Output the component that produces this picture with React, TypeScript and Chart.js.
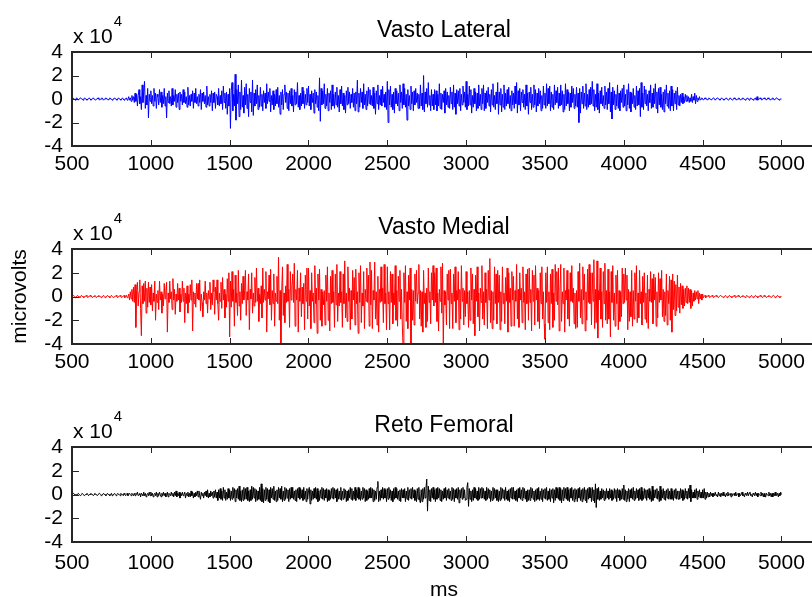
import React, { useEffect, useRef } from "react";
import { Chart, registerables } from "chart.js";

Chart.register(...registerables);

// Sampling of the recordings (ms)
const SAMPLE_START_MS = 500;
const SAMPLE_STEP_MS = 5;

// EMG amplitudes in units of 1000 microvolts, one value every 5 ms from 500 ms to 5000 ms
const vastoLateral = [
  0, 1, 0, 0, -1, 0, 1, 0, -1, 0, 0, 1, 0, 0, -1, 0, 1, 0, 0, -1,
  0, 0, 1, 0, -1, 0, 0, 1, 0, 0, -1, 0, 0, 1, 0, -1, 0, 0, 1, 0,
  -1, 0, 0, 1, 0, 0, -1, 0, 1, 0, 0, -1, 0, 0, 1, 0, 0, -1, 0, 1,
  0, 0, -1, 0, 1, 0, -1, 0, 0, 1, -1, 0, 2, -1, 1, -2, 3, -1, 2, -3,
  5, -2, 4, -6, 3, 8, -4, 2, -9, 12, -3, 6, 15, -8, 3, -5, 9, -16, 4, -2,
  7, -4, 3, -6, 9, -2, 5, -8, 4, 2, -5, 8, -3, 6, -7, 3, -4, 9, -6, 2,
  -16, 5, -3, 7, -4, 2, -6, 9, -5, 3, -2, 8, -7, 4, -3, 5, -9, 6, -2, 4,
  -5, 8, -3, 6, -4, 2, -7, 10, -5, 3, -6, 4, -2, 7, -8, 5, -3, 9, -4, 2,
  -6, 4, -3, 8, -9, 5, -2, 6, -4, 3, -7, 11, -5, 2, -6, 4, -3, 7, -10, 5,
  -3, 6, -8, 4, 2, -5, 9, -6, 3, -4, 7, -9, 11, -3, 5, -8, 6, -13, 4, -6,
  9, -25, 7, 14, -10, 4, -6, 21, -18, 8, -4, 12, -15, 6, -9, 16, -7, 3, -12, 10,
  -5, 13, -8, 4, -15, 9, -3, 6, -11, 16, -14, 5, -6, 8, -4, 12, -9, 3, -7, 10,
  -6, 4, -10, 7, -3, 5, -8, 13, -4, 6, -2, 9, -11, 3, -5, 7, -9, 4, -6, 8,
  -4, 10, -7, 3, -13, 6, -5, 8, -9, 4, 12, -3, 6, -8, 5, -10, 7, -4, 9, -6,
  3, -11, 8, -5, 6, -4, 14, -7, 3, -9, 5, -6, 10, -4, 7, -8, 4, -5, 9, -3,
  11, -6, 4, -9, 7, -3, 5, -12, 8, -4, 6, -7, 3, -10, 18, -19, 9, -5, 7, -4,
  13, -8, 4, -6, 9, -10, 5, -3, 7, -9, 12, -6, 4, -8, 6, -5, 10, -7, 3, -11,
  8, -4, 11, -6, 5, -9, 3, -12, 7, -5, 10, -4, 6, -8, 4, -3, 9, -7, 5, -10,
  6, -4, 16, -11, 5, -7, 9, -3, 6, -8, 13, -5, 4, -9, 7, -6, 10, -4, 8, -5,
  3, -6, 10, -8, 5, -13, 7, -4, 12, -9, 3, -5, 8, -6, 11, -3, 4, -7, 6, -9,
  15, -20, 8, -5, 11, -7, 4, -9, 6, -12, 9, -4, 7, -6, 5, -10, 12, -3, 6, -8,
  13, -5, 9, -7, 4, -18, 8, -6, 3, -9, 11, -4, 6, -10, 7, -5, 9, -3, 5, -8,
  4, -8, 12, -6, 5, -9, 20, -11, 6, -4, 9, -7, 14, -5, 3, -10, 8, -6, 4, -9,
  8, -5, 7, -10, 4, -6, 13, -8, 5, -9, 4, -3, 7, -12, 9, -5, 6, -7, 3, -8,
  10, -4, 6, -9, 12, -7, 5, -13, 8, -4, 7, -6, 9, -10, 4, -5, 11, -3, 6, -7,
  15, -9, 4, -6, 11, -5, 8, -12, 3, -7, 9, -4, 6, -10, 5, -8, 12, -6, 4, -9,
  9, -4, 12, -10, 5, -8, 7, -3, 10, -6, 4, -11, 8, -5, 13, -7, 3, -9, 6, -4,
  14, -13, 6, -5, 9, -11, 4, -7, 12, -9, 5, -6, 8, -4, 10, -8, 3, -10, 7, -5,
  5, -8, 11, -4, 14, -12, 7, -5, 9, -10, 6, -3, 8, -7, 4, -9, 12, -6, 5, -13,
  6, -3, 10, -9, 4, -7, 12, -5, 8, -11, 5, -6, 9, -4, 7, -10, 3, -8, 11, -5,
  5, -8, 13, -6, 9, -4, 11, -10, 6, -7, 4, -9, 12, -5, 7, -3, 10, -8, 5, -6,
  12, -5, 7, -11, 4, -9, 13, -6, 8, -4, 6, -10, 5, -7, 11, -3, 9, -8, 4, -6,
  10, -7, 5, -20, 9, -12, 6, -4, 11, -8, 5, -6, 13, -9, 4, -7, 8, -5, 10, -4,
  15, -6, 8, -10, 4, -7, 13, -9, 5, -12, 7, -4, 10, -6, 3, -8, 11, -5, 6, -9,
  9, -4, 14, -11, 6, -17, 10, -5, 7, -9, 4, -6, 12, -8, 5, -10, 7, -3, 9, -7,
  12, -6, 4, -10, 8, -5, 13, -8, 6, -11, 5, -4, 9, -7, 3, -9, 11, -6, 7, -5,
  9, -15, 14, -7, 5, -9, 11, -4, 8, -6, 4, -10, 7, -3, 12, -8, 5, -7, 9, -4,
  13, -8, 6, -12, 9, -5, 10, -7, 4, -9, 6, -11, 8, -4, 12, -6, 5, -8, 7, -10,
  11, -6, 8, -10, 5, -4, 7, -9, 10, -5, 3, -6, 4, -3, 5, -4, 2, -3, 4, -2,
  3, -2, 2, -3, 1, -2, 4, -3, 2, -1, 5, -4, 3, -2, 1, -1, 2, -1, 0, 1,
  0, -1, 0, 1, 0, 0, -1, 0, 1, 0, 0, -1, 0, 0, 1, 0, -1, 0, 0, 1,
  0, 0, -1, 0, 1, 0, 0, -1, 0, 0, 1, 0, 0, -1, 0, 1, 0, 0, -1, 0,
  1, 0, 0, -1, 0, 0, 1, 0, -1, 0, 0, 1, 0, 0, -1, 0, 0, 1, 0, -1,
  0, 1, 0, 0, -1, 0, 0, 1, -1, 2, -1, 0, 0, 1, 0, -1, 0, 0, 1, 0,
  0, -1, 0, 1, 0, 0, -1, 0, 0, 1, 0, -1, 0, 0, 1, 0, 0, -1, 0, 0,
  0,
];

const vastoMedial = [
  0, 0, 1, 0, -1, 0, 0, 1, 0, 0, -1, 0, 1, 0, 0, -1, 0, 0, 1, 0,
  -1, 0, 0, 1, 0, 0, -1, 0, 0, 1, 0, -1, 0, 0, 1, 0, 0, -1, 0, 0,
  1, 0, -1, 0, 0, 1, 0, 0, -1, 0, 1, 0, 0, -1, 0, 0, 1, 0, -1, 0,
  0, 1, 0, -1, 0, 0, 1, -1, 0, 1, -1, 0, 2, -3, 4, -2, 6, -4, 8, -5,
  10, -26, 5, 12, -8, 4, 14, -10, -33, 9, -6, 11, -4, 13, -14, 7, -9, 12, -5, 8,
  -7, 10, -12, 3, -4, 13, -20, 2, -5, 5, -11, 13, -3, 4, -14, 2, -8, 11, -2, 4,
  12, -30, 3, -5, 13, -2, 4, -11, 15, -3, 6, -15, 2, -4, 11, -3, 7, -13, 2, -5,
  13, -4, 7, -22, 3, -6, 9, -14, 2, -5, 10, -3, 14, -29, 4, -6, 3, -9, 11, -2,
  11, -3, 14, -12, 2, -5, -17, 4, -3, 13, -6, 3, -14, 5, -2, 12, -11, 3, -7, 14,
  4, -15, 8, -3, 14, -6, -20, 3, -4, 12, -10, 16, -3, 6, -18, 2, -9, 15, -4, 20,
  -34, 13, -9, 21, -4, 6, -25, 18, -5, 3, -16, 22, -8, 4, -20, 11, -6, 17, -3, 5,
  22, -16, 4, -3, 19, -28, 6, -2, 20, -14, 3, -8, 16, -5, 24, -4, 7, -21, 2, -6,
  9, -18, 24, -5, 6, -3, 21, -30, 4, -2, 18, -7, 23, -20, 5, -6, 19, -25, 3, -4,
  17, -6, 33, -20, 5, -44, 4, 25, -16, 3, -22, 9, -5, 27, -4, 6, -26, 21, -3, 8,
  19, -5, 28, -25, 6, -3, 22, -30, 7, -4, 20, -17, 8, -6, 11, -28, 18, -4, 24, -19,
  24, -8, 5, -27, 20, -4, 3, -22, 26, -6, 7, -31, 19, -3, 23, -20, 6, -25, 4, -7,
  5, -24, 18, -4, 25, -20, 3, -29, 17, -6, 22, -5, 4, -26, 19, -7, 27, -21, 3, -8,
  21, -5, 4, -26, 19, -6, 30, -18, 3, -21, 25, -4, 7, -28, 5, -19, 22, -3, 16, -24,
  23, -6, 4, -31, 20, -5, 26, -22, 3, -8, 21, -27, 6, -4, 24, -5, 18, -25, 29, -7,
  22, -27, 5, -3, 29, -19, 4, -24, 17, -30, 6, -5, 25, -4, 7, -22, 27, -6, 3, -28,
  25, -6, 4, -28, 21, -5, 19, -23, 3, -7, 26, -20, 5, -25, 17, -4, 22, -19, 6, -24,
  -44, 20, -5, 26, -21, 4, -27, 18, -3, 24, -45, 6, -20, 5, -24, 19, -4, 22, -6, 3,
  27, -19, 5, -25, 4, -30, 22, -6, 3, -26, 7, -21, 24, -5, 4, -23, 20, -3, 26, -8,
  20, -5, 24, -21, 3, -29, 6, -4, 25, -14, 28, -44, 5, -7, 4, -24, 19, -3, 22, -27,
  23, -6, 3, -27, 19, -4, 25, -22, 5, -3, 21, -28, 6, -19, 26, -4, 7, -24, 5, -17,
  21, -6, 4, -26, 5, -20, 24, -3, 19, -23, 6, -33, 18, -4, 25, -17, 3, -29, 7, -5,
  26, -19, 4, -24, 20, -5, 6, -27, 22, -3, 32, -22, 5, -27, 4, -20, 25, -6, 19, -23,
  22, -5, 18, -28, 4, -21, 25, -6, 3, -23, 16, -4, 24, -30, 20, -5, 7, -25, 21, -3,
  17, -25, 5, -4, 27, -19, 6, -26, 20, -3, 7, -22, 25, -5, 4, -28, 19, -6, 23, -20,
  24, -5, 6, -29, 22, -4, 18, -24, 26, -3, 7, -21, 5, -27, 20, -6, 25, -19, 4, -23,
  -36, 20, -5, 25, -22, 4, -28, 19, -6, 23, -26, 3, -20, 27, -4, 21, -7, 24, -29, 5,
  27, -21, 4, -6, 24, -30, 5, -3, 22, -19, 6, -25, 20, -4, 26, -5, 7, -23, 3, -27,
  5, -26, 21, -4, 28, -18, 6, -23, 25, -3, 19, -29, 4, -20, 23, -5, 27, -6, 20, -24,
  20, -4, 31, -27, 6, -22, 30, -35, 5, -3, 24, -19, 4, -26, 21, -6, 28, -20, 5, -23,
  23, -19, 4, -34, 21, -5, 26, -20, 3, -25, 18, -6, 22, -28, 5, -21, 4, -17, 24, -6,
  19, -5, 24, -3, 18, -28, 6, -21, 4, -17, 22, -25, 5, -19, 20, -4, 26, -22, 3, -18,
  22, -6, 4, -24, 17, -5, 20, -19, 3, -22, 18, -27, 6, -4, 21, -5, 15, -23, 19, -3,
  16, -25, 4, -18, 20, -5, 15, -3, 22, -17, 6, -21, 4, -16, 19, -24, 5, -6, 17, -20,
  14, -30, 19, -11, 13, -16, 10, -12, 18, -9, 8, -14, 11, -7, 9, -10, 6, -8, 7, -5,
  9, -6, 7, -5, 6, -10, 5, -8, 3, -4, 5, -3, 4, -2, 5, -6, 3, -2, 2, -3,
  2, -1, 0, 1, -1, 0, 0, 1, 0, -1, 0, 0, 1, 0, -1, 0, 0, 1, 0, 0,
  -1, 0, 0, 1, 0, 0, -1, 0, 0, 1, 0, -1, 0, 0, 1, 0, 0, -1, 0, 0,
  1, 0, -1, 0, 0, 1, 0, 0, -1, 0, 0, 1, 0, 0, -1, 0, 1, 0, 0, -1,
  0, 0, 1, 0, -1, 0, 0, 1, 0, 0, -1, 0, 0, 1, 0, 0, -1, 0, 1, 0,
  0, -1, 0, 0, 1, 0, 0, -1, 0, 0, 1, 0, -1, 0, 0, 1, 0, 0, -1, 0,
  0,
];

const retoFemoral = [
  0, 0, 1, 0, 0, -1, 0, 0, 1, 0, 0, -1, 0, 1, 0, 0, -1, 0, 0, 1,
  0, -1, 0, 0, 1, 0, 0, -1, 0, 1, 0, 0, -1, 0, 0, 1, 0, -1, 0, 0,
  1, 0, 0, -1, 0, 1, 0, 0, -1, 0, 1, -1, 0, 0, 1, 0, -1, 0, 1, 0,
  0, -1, 1, 0, 0, -1, 1, 0, -1, 0, 1, -1, 0, 1, 0, -1, 1, 0, -1, 1,
  -1, 1, 0, 2, -1, 0, 1, -2, 1, 0, -1, 2, -1, 1, -2, 0, 1, -1, 2, -1,
  2, -1, 1, -2, 0, 1, -1, 2, -2, 1, -1, 2, 0, -2, 1, -1, 2, -1, 1, -2,
  -1, 2, -2, 1, 0, -1, 2, -1, 1, -2, 2, -1, 3, -2, 1, -1, 2, -3, 1, -1,
  2, -1, 0, 2, -3, 1, -1, 2, -2, 1, -2, 3, -1, 2, -3, 1, -2, 2, -1, 3,
  -2, 3, -1, -4, 2, -1, 1, -3, 2, -1, 3, -2, 4, -3, 1, -2, 3, -1, 2, -3,
  3, -2, 4, -3, 2, -5, 4, -3, 5, -4, 3, -5, 6, -3, 4, -5, 2, -4, 5, -3,
  4, -5, 3, -4, 6, -3, 5, -6, 4, -3, 5, -4, 7, -5, 3, -6, 4, -5, 6, -4,
  5, -4, 6, -5, 3, -6, 4, -5, 7, -4, 6, -3, 5, -6, 4, -5, 3, -4, 6, -5,
  9, -6, 5, -7, 4, -5, 6, -4, 5, -6, 4, -7, 6, -3, 5, -4, 7, -5, 3, -6,
  4, -5, 6, -3, 5, -4, 7, -6, 3, -5, 6, -4, 5, -3, 4, -6, 5, -4, 6, -3,
  6, -4, 3, -5, 4, -6, 5, -3, 6, -4, 5, -3, 4, -5, 6, -4, 3, -6, 5, -4,
  3, 6, -8, 4, -5, 3, -4, 5, -3, 6, -4, 5, -6, 3, -5, 4, -3, 6, -4, 5,
  -5, 4, -3, 5, -6, 4, -5, 3, -4, 5, -3, 6, -4, 5, -3, 4, -6, 5, -4, 3,
  -4, 6, -5, 3, -4, 5, -3, 4, -6, 3, -5, 4, -3, 6, -4, 5, -5, 3, -4, 6,
  -5, 4, -3, 6, -4, 5, -5, 3, -4, 6, -3, 5, -6, 4, -5, 3, -4, 5, -3, 6,
  -3, 5, -6, 4, -5, 3, -4, 6, 11, -6, 3, -5, 4, -3, 6, -4, 5, -3, 4, -6,
  5, -4, 6, -3, 4, -5, 3, -6, 5, -4, 6, -3, 5, -4, 3, -5, 4, -6, 5, -3,
  4, -3, 5, -6, 3, -4, 6, -5, 4, -3, 5, -4, 6, -3, 4, -5, 3, -6, 5, -4,
  6, -5, -7, 4, -6, 5, -4, 6, -3, 5, 13, -14, 7, -5, 4, -6, 5, -3, 6, -4,
  4, -6, 5, -4, 6, -3, 5, -5, 4, -6, 3, -4, 5, -3, 6, -5, 4, -3, 5, -4,
  3, -5, 6, -4, 5, -6, 4, -3, 5, -4, 6, -7, 4, -3, 5, -4, 6, -3, 4, -5,
  -4, 6, 10, -10, 5, -4, 3, -6, 4, -5, 6, -3, 5, -4, 3, -5, 6, -4, 5, -3,
  6, -3, 5, -4, 3, -5, 6, -4, 5, -3, 4, -6, 3, -5, 6, -4, 5, -3, 4, -5,
  4, -6, 3, -5, 6, -4, 5, -3, 4, -5, 6, -4, 3, -5, 4, -6, 5, -3, 6, -4,
  6, -4, 3, -5, 4, -6, 5, -3, 6, -4, 4, -5, 6, -3, 5, -4, 3, -6, 4, -5,
  4, -5, 6, -3, 5, -4, 3, -6, 4, -5, 5, -4, 6, -5, 3, -4, 5, -6, 4, -3,
  5, -4, 6, -5, 3, -4, 5, -6, 4, -3, 5, -7, 4, -5, 6, -3, 5, -4, 6, -5,
  5, -7, 4, -5, 6, -3, 5, -4, 6, -5, 4, -6, 5, -3, 6, -5, 4, -6, 5, -4,
  4, -6, 5, -3, 6, -5, 4, -6, 5, -4, 6, -5, 4, -7, 5, -4, 6, -3, 5, -6,
  6, -5, 4, -7, 9, -11, 5, -4, 6, -5, 3, -4, 5, -3, 4, -5, 3, -4, 5, -3,
  3, -4, 5, -3, 4, -5, 3, -4, 5, -3, 4, -6, 5, -3, 4, -5, 3, -4, 5, -4,
  8, -5, 4, -6, 3, -4, 5, -6, 4, -3, 5, -4, 6, -5, 3, -4, 5, -3, 4, -5,
  5, -4, 6, -5, 3, -4, 5, -3, 4, -5, 4, -3, 5, -4, 3, -6, 7, -5, 4, -3,
  4, -3, 5, -4, 3, -6, 7, -5, 4, -3, 5, -4, 3, -5, 4, -3, 5, -4, 3, -4,
  5, -4, 3, -5, 4, -3, 5, -4, 3, -4, 3, -4, 5, -3, 4, -5, 3, -4, 5, -3,
  3, -4, 5, -3, 8, -6, 4, -3, 2, -3, 4, -3, 5, -4, 3, -2, 4, -3, 2, -3,
  4, -3, 5, -4, 2, -3, 2, -2, 1, -2, 2, -1, 1, -2, 1, -1, 2, -1, 0, -2,
  2, -1, 1, -2, 1, -1, 2, -1, 0, -2, 1, -1, 2, -1, 0, 1, -2, 1, -1, 0,
  1, -1, 2, -1, 0, 1, -2, 1, -1, 0, 2, -1, 0, -2, 1, 0, -1, 2, -1, 1,
  2, -1, 0, -2, 1, 0, -1, 2, -1, 1, -2, 1, 0, -1, 2, -1, 1, -2, 1, -2,
  -2, 1, 0, -1, 2, -1, 1, -2, 1, -2, 1, -1, 2, -1, 0, 1, -2, 1, -1, 2,
  0,
];

const X_TICKS = [500, 1000, 1500, 2000, 2500, 3000, 3500, 4000, 4500, 5000];
const Y_TICKS = [-4, -2, 0, 2, 4]; // x 10^4 microvolts
const X_MIN = 500;
const X_MAX = 5219;

const FONT = '"Liberation Sans", Arial, Helvetica, sans-serif';
const FRAME = "#262626";

type PanelProps = {
  title: string;
  values: number[];
  color: string;
  top: number;
  height: number;
  padBottom: number;
  tickPad: number;
  yLabel?: string;
  xLabel?: string;
};

function framePlugin(p: PanelProps) {
  return {
    id: "matlabFrame",
    afterDraw(chart: any) {
      const { ctx, chartArea: a, scales } = chart;
      const xs = scales.x;
      const ys = scales.y;
      ctx.save();
      ctx.strokeStyle = FRAME;
      ctx.lineWidth = 2;
      ctx.beginPath();
      ctx.moveTo(a.left, a.top);
      ctx.lineTo(a.right, a.top);
      ctx.moveTo(a.left, a.bottom);
      ctx.lineTo(a.right, a.bottom);
      ctx.moveTo(a.left, a.top - 1);
      ctx.lineTo(a.left, a.bottom + 1);
      ctx.stroke();
      ctx.lineWidth = 1;
      ctx.beginPath();
      for (const v of X_TICKS) {
        const px = Math.round(xs.getPixelForValue(v)) + 0.5;
        ctx.moveTo(px, a.bottom);
        ctx.lineTo(px, a.bottom - 6);
        ctx.moveTo(px, a.top);
        ctx.lineTo(px, a.top + 6);
      }
      for (const v of Y_TICKS) {
        const py = Math.round(ys.getPixelForValue(v * 10000)) + 0.5;
        ctx.moveTo(a.left, py);
        ctx.lineTo(a.left + 7, py);
      }
      ctx.stroke();
      ctx.fillStyle = "#000";
      ctx.font = `23px ${FONT}`;
      ctx.textAlign = "center";
      ctx.textBaseline = "alphabetic";
      ctx.fillText(p.title, (a.left + a.right) / 2, 37);
      ctx.textAlign = "left";
      ctx.font = `21px ${FONT}`;
      const base = "x 10";
      ctx.fillText(base, a.left + 1, 42.5);
      const w = ctx.measureText(base).width;
      ctx.font = `15px ${FONT}`;
      ctx.fillText("4", a.left + 1 + w + 1, 25.5);
      if (p.yLabel) {
        ctx.save();
        ctx.translate(26, (a.top + a.bottom) / 2);
        ctx.rotate(-Math.PI / 2);
        ctx.font = `21px ${FONT}`;
        ctx.textAlign = "center";
        ctx.textBaseline = "alphabetic";
        ctx.fillText(p.yLabel, 0, 0);
        ctx.restore();
      }
      if (p.xLabel) {
        ctx.font = `21px ${FONT}`;
        ctx.textAlign = "center";
        ctx.textBaseline = "alphabetic";
        ctx.fillText(p.xLabel, (a.left + a.right) / 2, chart.height - 1);
      }
      ctx.restore();
    },
  };
}

function Panel(p: PanelProps) {
  const ref = useRef<HTMLCanvasElement | null>(null);
  useEffect(() => {
    if (!ref.current) return;
    const points = p.values.map((v, i) => ({
      x: SAMPLE_START_MS + i * SAMPLE_STEP_MS,
      y: v * 1000,
    }));
    const chart = new Chart(ref.current, {
      type: "line",
      data: {
        datasets: [
          {
            data: points,
            borderColor: p.color,
            borderWidth: 1,
            pointRadius: 0,
            tension: 0,
            fill: false,
          },
        ],
      },
      options: {
        animation: false,
        responsive: false,
        maintainAspectRatio: false,
        events: [],
        layout: { padding: { top: 52, left: 0, right: 14, bottom: p.padBottom } },
        plugins: {
          legend: { display: false },
          tooltip: { enabled: false },
          title: { display: false },
        },
        scales: {
          x: {
            type: "linear",
            min: X_MIN,
            max: X_MAX,
            grid: { display: false, drawTicks: false },
            border: { display: false },
            afterBuildTicks: (s: any) => {
              s.ticks = X_TICKS.map((v) => ({ value: v }));
            },
            afterFit: (s: any) => {
              s.height = 28;
            },
            ticks: {
              autoSkip: false,
              maxRotation: 0,
              padding: p.tickPad,
              color: "#000",
              font: { family: FONT, size: 21 },
              callback: (v: any) => String(v),
            },
          },
          y: {
            type: "linear",
            min: -40000,
            max: 40000,
            grid: { display: false, drawTicks: false },
            border: { display: false },
            afterBuildTicks: (s: any) => {
              s.ticks = Y_TICKS.map((v) => ({ value: v * 10000 }));
            },
            afterFit: (s: any) => {
              s.width = 72;
            },
            ticks: {
              autoSkip: false,
              padding: 9,
              color: "#000",
              font: { family: FONT, size: 21 },
              callback: (v: any) => String(Math.round(Number(v) / 10000)),
            },
          },
        },
      },
      plugins: [framePlugin(p)],
    } as any);
    return () => chart.destroy();
  }, []);
  return (
    <canvas
      ref={ref}
      width={830}
      height={p.height}
      style={{ position: "absolute", left: 0, top: p.top, width: 830, height: p.height }}
    />
  );
}

export default function App() {
  return (
    <div
      style={{
        position: "fixed",
        left: 0,
        top: 0,
        width: 812,
        height: 597,
        overflow: "hidden",
        background: "#fff",
      }}
    >
      <Panel
        title="Vasto Lateral"
        values={vastoLateral}
        color="#0000ff"
        top={0}
        height={180}
        padBottom={6}
        tickPad={6}
      />
      <Panel
        title="Vasto Medial"
        values={vastoMedial}
        color="#ff0000"
        top={197}
        height={180}
        padBottom={5}
        tickPad={6}
        yLabel="microvolts"
      />
      <Panel
        title="Reto Femoral"
        values={retoFemoral}
        color="#000000"
        top={395}
        height={202}
        padBottom={27}
        tickPad={9}
        xLabel="ms"
      />
    </div>
  );
}
